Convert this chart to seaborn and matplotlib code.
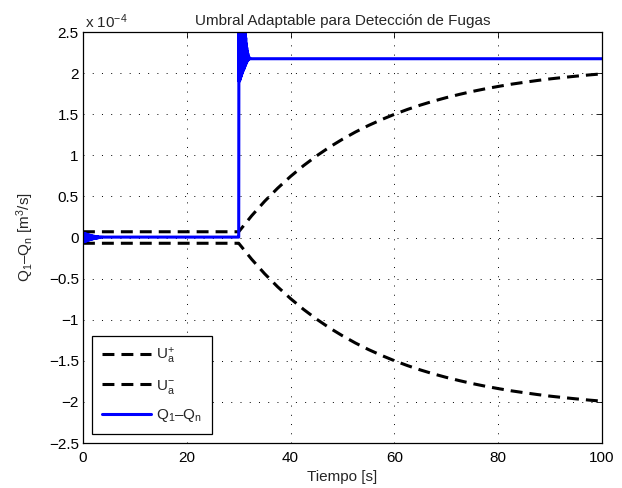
import numpy as np
import pandas as pd
import matplotlib
matplotlib.use("Agg")
import matplotlib.pyplot as plt
import seaborn as sns

# ---------------- data (values in units of 1e-4 m^3/s) ----------------
# adaptive threshold U_a^+ (U_a^- is its mirror)
thr_t = [0, 29.9, 30, 32.5, 35, 37.5, 40, 42.5, 45, 47.5, 50, 52.5, 55, 57.5, 60,
         62.5, 65, 67.5, 70, 72.5, 75, 77.5, 80, 82.5, 85, 87.5, 90, 92.5, 95,
         97.5, 100]
thr_up = [0.07, 0.07, 0.07, 0.265, 0.441, 0.600, 0.744, 0.875, 0.993, 1.100,
          1.196, 1.284, 1.363, 1.434, 1.499, 1.558, 1.611, 1.659, 1.702, 1.741,
          1.777, 1.809, 1.838, 1.865, 1.888, 1.910, 1.930, 1.947, 1.963, 1.978,
          1.991]
thr_low = [-v for v in thr_up]

# residual Q1 - Qn : start-up transient
q_t_start = [0.0, 0.1, 0.2, 0.3, 0.4, 0.5, 0.6, 0.7, 0.8, 0.9, 1.0, 1.1, 1.2,
             1.3, 1.4, 1.5, 1.6, 1.7, 1.8, 1.9, 2.0, 2.1, 2.2, 2.3, 2.4, 2.5,
             2.6, 2.7, 2.8, 2.9, 3.0, 3.2, 3.4, 3.6, 3.8, 4.0]
q_v_start = [0.05, -0.055, 0.05, -0.05, 0.047, -0.046, 0.043, -0.041, 0.039,
             -0.036, 0.035, -0.032, 0.031, -0.028, 0.027, -0.024, 0.023, -0.021,
             0.020, -0.017, 0.017, -0.014, 0.015, -0.011, 0.013, -0.009, 0.011,
             -0.007, 0.010, -0.005, 0.009, 0.0, 0.008, 0.002, 0.007, 0.005]
# residual: quiet period before the leak
q_t_mid = [5.0, 10.0, 20.0, 29.95]
q_v_mid = [0.005, 0.005, 0.005, 0.005]
# residual: leak transient at t = 30 s
q_t_leak = [30.00, 30.05, 30.10, 30.15, 30.20, 30.25, 30.30, 30.35, 30.40,
            30.45, 30.50, 30.55, 30.60, 30.65, 30.70, 30.75, 30.80, 30.85,
            30.90, 30.95, 31.00, 31.05, 31.10, 31.15, 31.20, 31.25, 31.30,
            31.35, 31.40, 31.45, 31.50, 31.55, 31.60, 31.65, 31.70, 31.75,
            31.80, 31.85, 31.90, 31.95, 32.00, 32.10, 32.2, 32.5]
q_v_leak = [0.005, 3.40, 1.90, 3.30, 1.91, 3.20, 1.93, 3.10, 1.95, 3.00, 1.97,
            2.92, 1.99, 2.85, 2.00, 2.78, 2.02, 2.70, 2.04, 2.65, 2.05, 2.60,
            2.06, 2.55, 2.08, 2.50, 2.10, 2.43, 2.11, 2.36, 2.13, 2.31, 2.14,
            2.27, 2.15, 2.24, 2.16, 2.21, 2.165, 2.195, 2.17, 2.185, 2.175,
            2.175]
q_t_end = [40.0, 60.0, 80.0, 100.0]
q_v_end = [2.175, 2.175, 2.175, 2.175]

x_ticks = [0, 20, 40, 60, 80, 100]
y_ticks = [-2.5, -2, -1.5, -1, -0.5, 0, 0.5, 1, 1.5, 2, 2.5]
y_ticklabels = ["\u22122.5", "\u22122", "\u22121.5", "\u22121", "\u22120.5", "0",
                "0.5", "1", "1.5", "2", "2.5"]

# ---------------- build frames ----------------
df_thr = pd.DataFrame({"t": thr_t + thr_t,
                       "v": thr_up + thr_low,
                       "s": ["up"] * len(thr_t) + ["low"] * len(thr_t)})
q_t = q_t_start + q_t_mid + q_t_leak + q_t_end
q_v = q_v_start + q_v_mid + q_v_leak + q_v_end
df_q = pd.DataFrame({"t": q_t, "v": q_v})

# ---------------- style ----------------
sns.set_style("white")
plt.rcParams["font.family"] = ["Liberation Sans", "DejaVu Sans"]
plt.rcParams["mathtext.fontset"] = "custom"
plt.rcParams["mathtext.rm"] = "Liberation Sans"
plt.rcParams["mathtext.it"] = "Liberation Sans:italic"
plt.rcParams["axes.unicode_minus"] = True

FS = 11
fig = plt.figure(figsize=(6.22, 4.88), dpi=100)
ax = fig.add_axes([0.1334, 0.0922, 0.8346, 0.8422])

lw_d = 2.2
dash = (3.9, 2.3)
sns.lineplot(data=df_thr[df_thr.s == "up"], x="t", y="v", ax=ax, color="black",
             lw=lw_d, sort=False, estimator=None,
             label="U$_\\mathrm{a}^{+}$")
sns.lineplot(data=df_thr[df_thr.s == "low"], x="t", y="v", ax=ax, color="black",
             lw=lw_d, sort=False, estimator=None,
             label="U$_\\mathrm{a}^{-}$")
for ln in ax.lines:
    ln.set_dashes(dash)
sns.lineplot(data=df_q, x="t", y="v", ax=ax, color="#0000ff", lw=2.2,
             sort=False, estimator=None,
             label="Q$_\\mathrm{1}$\u2013Q$_\\mathrm{n}$")

ax.set_xlim(0, 100)
ax.set_ylim(-2.5, 2.5)
ax.set_xticks(x_ticks)
ax.set_xticklabels([str(v) for v in x_ticks])
ax.set_yticks(y_ticks)
ax.set_yticklabels(y_ticklabels)
ax.tick_params(direction="in", length=4, width=0.6, labelsize=FS,
               top=True, right=True, colors="black")
ax.tick_params(axis="x", pad=6)
ax.tick_params(axis="y", pad=3)
ax.grid(True, color="black", linestyle=(0, (1, 8.5)), linewidth=0.7)
for sp in ax.spines.values():
    sp.set_color("black")
    sp.set_linewidth(0.9)

ax.set_xlabel("Tiempo [s]", fontsize=FS, labelpad=3)
ax.set_ylabel("Q$_\\mathrm{1}$\u2013Q$_\\mathrm{n}$ [m$^\\mathrm{3}$/s]",
              fontsize=FS, labelpad=9)
ax.set_title("Umbral Adaptable para Detecci\u00f3n de Fugas", fontsize=FS, pad=5)
fig.text(0.137, 1 - 28 / 488, "x 10$^{-4}$", fontsize=FS, ha="left",
         va="baseline")

leg = ax.legend(loc="lower left", bbox_to_anchor=(9 / 519, 9 / 411),
                borderaxespad=0, fontsize=FS, handlelength=3.2,
                labelspacing=0.75, borderpad=0.65, handletextpad=0.35,
                fancybox=False, framealpha=1, edgecolor="black")
leg.get_frame().set_linewidth(0.9)
for h in leg.get_lines()[:2]:
    h.set_dashes(dash)

fig.savefig("out.png", dpi=100)
